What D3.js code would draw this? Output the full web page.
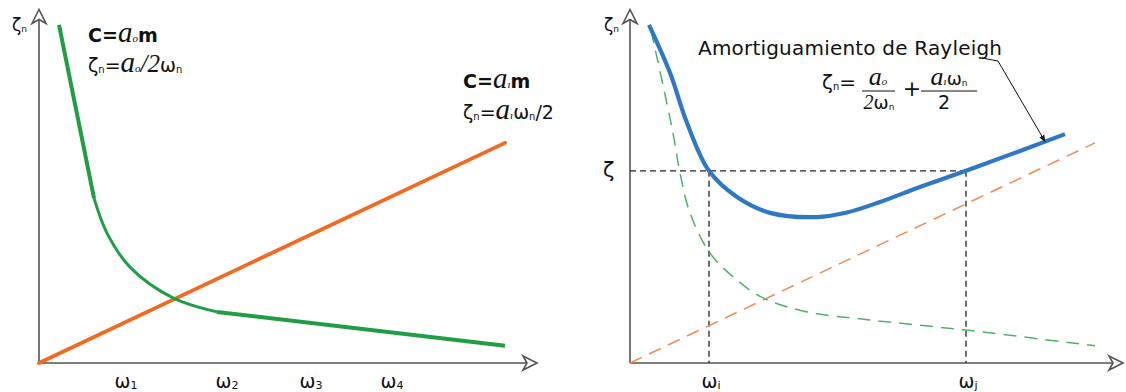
<!DOCTYPE html>
<html>
<head>
<meta charset="utf-8">
<script src="https://cdn.jsdelivr.net/npm/d3@7"></script>
<style>
  html, body { margin: 0; padding: 0; background: #fff; }
  svg { display: block; }
</style>
</head>
<body>
<svg id="chart" width="1126" height="392"></svg>
<script>
// ---- Data (ω on the horizontal axis, ζn on the vertical axis, arbitrary units) ----

// Left panel: mass-proportional damping (green) and stiffness-proportional damping (orange)
const massSteep = [[0.40, 9.66], [1.10, 4.71]];
const massKnee  = [[1.10, 4.71], [1.36, 3.71], [1.82, 2.74], [2.68, 1.86], [3.56, 1.46]];
const massTail  = [[3.56, 1.46], [9.32, 0.49]];
const stiffLine = [[0.00, 0.00], [9.32, 6.29]];
const leftTickValues = [1.74, 3.76, 5.44, 7.06];
const leftTickSubs   = ["1", "2", "3", "4"];

// Right panel: Rayleigh damping (blue) with its two components (dashed)
const rayleighCurve = [[0.38, 9.66], [0.80, 8.29], [1.14, 6.86], [1.58, 5.49], [2.14, 4.74],
                       [2.80, 4.29], [3.74, 4.17], [4.34, 4.30], [5.00, 4.60], [5.80, 5.03],
                       [6.72, 5.49], [8.70, 6.54]];
const massComponent = [[0.42, 9.51], [0.86, 6.57], [1.00, 5.43], [1.20, 4.29], [1.60, 3.14],
                       [2.14, 2.37], [2.66, 1.86], [3.54, 1.46], [4.80, 1.23], [6.72, 0.94],
                       [9.30, 0.49]];
const stiffComponent = [[0.00, 0.00], [9.30, 6.29]];
const rightTickValues = [1.58, 6.72];
const rightTickSubs   = ["i", "j"];
const targetDamping   = 5.49;
const calloutPoint    = [8.30, 6.33];

// ---- Styles ----
const SANS = "'DejaVu Sans', Verdana, sans-serif";
const SERIF = "'Liberation Serif', 'Times New Roman', serif";
const AXIS = "#555";
const GREEN = "#1f9e45", ORANGE = "#f26a21", BLUE = "#2f78c4";
const GREEN_D = "#4db36a", ORANGE_D = "#f58a4e";

const svg = d3.select("#chart");

// Scales
const y  = d3.scaleLinear().domain([0, 10]).range([363, 13]);
const xL = d3.scaleLinear().domain([0, 10]).range([39, 539]);
const xR = d3.scaleLinear().domain([0, 10]).range([630, 1130]);

// Rich text helper: parts = [{t, s, f, w, i, sub}]
function rich(x, yPos, parts, anchor) {
  const t = svg.append("text")
    .attr("x", x).attr("y", yPos)
    .attr("text-anchor", anchor || "start")
    .attr("fill", "#111");
  let off = 0;
  parts.forEach(p => {
    const target = p.sub ? (p.subDy !== undefined ? p.subDy : 1) : 0;
    t.append("tspan")
      .attr("dy", target - off)
      .attr("font-family", p.f || SANS)
      .attr("font-size", p.s || 19)
      .attr("font-weight", p.w || "normal")
      .attr("font-style", p.i ? "italic" : "normal")
      .text(p.t);
    off = target;
  });
  return t;
}
const A = (s) => ({ t: "a", f: SERIF, i: 1, s: s || 29 });
const SUB = (t, s) => ({ t, s: s || 10, sub: true });
const SUBI = (t) => ({ t, f: SERIF, i: 1, s: 11, sub: true, subDy: 0 });

// Axes with open arrowheads
function axes(x) {
  const g = svg.append("g").attr("stroke", AXIS).attr("stroke-width", 1.6).attr("fill", "none");
  const xEnd = x === xL ? 537 : 1123;
  g.append("line").attr("x1", x(0)).attr("x2", xEnd - 4).attr("y1", y(0)).attr("y2", y(0));
  g.append("line").attr("x1", x(0)).attr("x2", x(0)).attr("y1", y(0)).attr("y2", y(10.1) + 4);
  const head = "M-14,-7 L0,0 L-14,7 L-10,0 Z";
  g.append("path").attr("d", head).attr("fill", "#fff")
    .attr("transform", `translate(${xEnd},${y(0)})`);
  g.append("path").attr("d", head).attr("fill", "#fff")
    .attr("transform", `translate(${x(0)},${y(10.1)}) rotate(-90)`);
}
axes(xL);
axes(xR);

// Line generators
const lineL = d3.line().x(d => xL(d[0])).y(d => y(d[1]));
const kneeL = d3.line().x(d => xL(d[0])).y(d => y(d[1])).curve(d3.curveCatmullRom.alpha(0.5));
const lineR = d3.line().x(d => xR(d[0])).y(d => y(d[1]));
const curveR = d3.line().x(d => xR(d[0])).y(d => y(d[1])).curve(d3.curveCatmullRom.alpha(0.5));

// ---- Left panel ----
svg.append("path").attr("d", lineL(stiffLine)).attr("fill", "none")
  .attr("stroke", ORANGE).attr("stroke-width", 3.8).attr("stroke-linecap", "round");
svg.append("path").attr("d", kneeL(massKnee)).attr("fill", "none")
  .attr("stroke", GREEN).attr("stroke-width", 3);
svg.append("path").attr("d", lineL(massSteep)).attr("fill", "none")
  .attr("stroke", GREEN).attr("stroke-width", 4);
svg.append("path").attr("d", lineL(massTail)).attr("fill", "none")
  .attr("stroke", GREEN).attr("stroke-width", 4);

rich(12, 31, [{ t: "ζ", s: 17 }, SUB("n", 9)]);
rich(88, 42, [{ t: "C=", w: "bold" }, A(), SUBI("o"), { t: "m", w: "bold" }]);
rich(88, 72, [{ t: "ζ" }, SUB("n"), { t: "=" }, A(), SUBI("o"), { t: "/2", f: SERIF, i: 1, s: 25 }, { t: "ω" }, SUB("n")]);
rich(463, 88, [{ t: "C=", w: "bold" }, A(), SUBI("ı"), { t: "m", w: "bold" }]);
rich(463, 119, [{ t: "ζ" }, SUB("n"), { t: "=" }, A(), SUBI("ı"), { t: "ω" }, SUB("n"), { t: "/2" }]);

leftTickValues.forEach((v, i) => {
  rich(xL(v), 388, [{ t: "ω", s: 19 }, SUB(leftTickSubs[i], 11)], "middle");
});

// ---- Right panel ----
// Guides at the target damping ratio
const guide = svg.append("g").attr("stroke", "#222").attr("stroke-width", 1.3)
  .attr("stroke-dasharray", "6,4").attr("fill", "none");
guide.append("line").attr("x1", xR(0)).attr("x2", xR(rightTickValues[1]))
  .attr("y1", y(targetDamping)).attr("y2", y(targetDamping));
rightTickValues.forEach(v => {
  guide.append("line").attr("x1", xR(v)).attr("x2", xR(v))
    .attr("y1", y(targetDamping)).attr("y2", y(0));
});

svg.append("path").attr("d", lineR(stiffComponent)).attr("fill", "none")
  .attr("stroke", ORANGE_D).attr("stroke-width", 1.5).attr("stroke-dasharray", "13,8");
svg.append("path").attr("d", curveR(massComponent)).attr("fill", "none")
  .attr("stroke", GREEN_D).attr("stroke-width", 1.5).attr("stroke-dasharray", "13,8");
svg.append("path").attr("d", curveR(rayleighCurve)).attr("fill", "none")
  .attr("stroke", BLUE).attr("stroke-width", 4.2).attr("stroke-linecap", "butt");

rich(604, 31, [{ t: "ζ", s: 17 }, SUB("n", 9)]);
svg.append("text").attr("x", 603).attr("y", 177).attr("font-family", SANS)
  .attr("font-size", 21).attr("fill", "#111").text("ζ");

rightTickValues.forEach((v, i) => {
  rich(xR(v) + 2, 388, [{ t: "ω", s: 19 }, SUB(rightTickSubs[i], 11)], "middle");
});

// Title and formula
svg.append("text").attr("x", 698).attr("y", 55).attr("font-family", SANS)
  .attr("font-size", 20).attr("letter-spacing", 0.2).attr("fill", "#111")
  .text("Amortiguamiento de Rayleigh");

rich(822, 89, [{ t: "ζ", s: 20 }, SUB("n", 10), { t: "=", s: 20 }]);
rich(878, 85, [A(26), SUBI("o")], "middle");
svg.append("line").attr("x1", 862).attr("x2", 895).attr("y1", 91).attr("y2", 91)
  .attr("stroke", "#111").attr("stroke-width", 1.2);
rich(879, 109, [{ t: "2", f: SERIF, i: 1, s: 20 }, { t: "ω", s: 18 }, SUB("n", 9)], "middle");
svg.append("text").attr("x", 912).attr("y", 96).attr("text-anchor", "middle")
  .attr("font-family", SANS).attr("font-size", 22).attr("fill", "#111").text("+");
rich(949, 85, [A(26), SUBI("ı"), { t: "ω", s: 18 }, SUB("n", 9)], "middle");
svg.append("line").attr("x1", 921).attr("x2", 977).attr("y1", 91).attr("y2", 91)
  .attr("stroke", "#111").attr("stroke-width", 1.2);
svg.append("text").attr("x", 944).attr("y", 109).attr("text-anchor", "middle")
  .attr("font-family", SANS).attr("font-size", 19).attr("fill", "#111").text("2");

// Callout from the title to the curve
svg.append("defs").append("marker").attr("id", "tip")
  .attr("viewBox", "0 0 10 10").attr("refX", 9).attr("refY", 5)
  .attr("markerWidth", 7).attr("markerHeight", 7).attr("orient", "auto")
  .append("path").attr("d", "M0,1 L10,5 L0,9 Z").attr("fill", "#111");
svg.append("polyline")
  .attr("points", `982,58 998,61 ${xR(calloutPoint[0])},${y(calloutPoint[1])}`)
  .attr("fill", "none").attr("stroke", "#111").attr("stroke-width", 1)
  .attr("marker-end", "url(#tip)");
</script>
</body>
</html>
